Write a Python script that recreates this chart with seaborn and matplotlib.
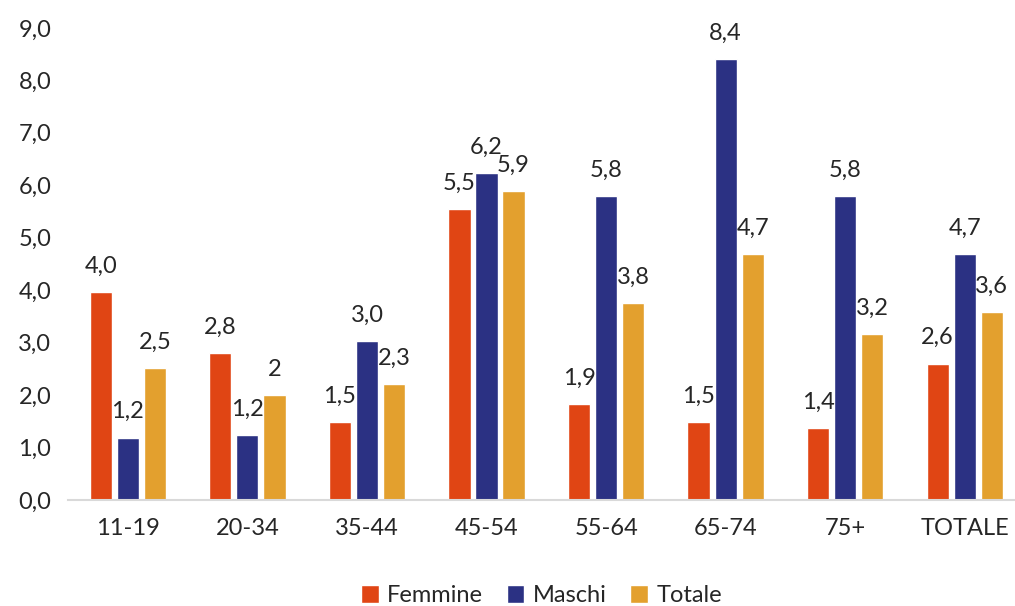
import pandas as pd
import seaborn as sns
import matplotlib.pyplot as plt

categories = ["11-19", "20-34", "35-44", "45-54", "55-64", "65-74", "75+", "TOTALE"]
series = ["Femmine", "Maschi", "Totale"]

# bar heights
femmine = [3.97, 2.80, 1.49, 5.55, 1.83, 1.49, 1.37, 2.60]
maschi = [1.19, 1.24, 3.03, 6.23, 5.80, 8.40, 5.80, 4.69]
totale = [2.52, 2.00, 2.21, 5.89, 3.76, 4.69, 3.16, 3.59]

# data labels as printed in the chart
femmine_lbl = ["4,0", "2,8", "1,5", "5,5", "1,9", "1,5", "1,4", "2,6"]
maschi_lbl = ["1,2", "1,2", "3,0", "6,2", "5,8", "8,4", "5,8", "4,7"]
totale_lbl = ["2,5", "2", "2,3", "5,9", "3,8", "4,7", "3,2", "3,6"]

colors = ["#E04514", "#2B3183", "#E3A02E"]

df = pd.DataFrame({
    "categoria": categories * 3,
    "serie": [s for s in series for _ in categories],
    "valore": femmine + maschi + totale,
})

sns.set_theme(style="white")
plt.rcParams["font.family"] = ["Lato", "DejaVu Sans"]

fig = plt.figure(figsize=(10.15, 6.06), dpi=100)
ax = fig.add_axes([0.067, 0.175, 0.933, 0.779])

sns.barplot(data=df, x="categoria", y="valore", hue="serie", order=categories,
            hue_order=series, palette=colors, width=0.68, gap=0.18,
            saturation=1, ax=ax, legend=True)

for cont, lbl in zip(ax.containers, [femmine_lbl, maschi_lbl, totale_lbl]):
    ax.bar_label(cont, labels=lbl, padding=11, fontsize=17, color="#262626")

ax.set_ylim(0, 9)
ax.set_xlim(-0.5, 7.42)
ax.set_yticks(range(10))
ax.set_yticklabels([f"{v},0" for v in range(10)])
ax.tick_params(axis="both", length=0, labelsize=17, labelcolor="#262626")
ax.tick_params(axis="x", pad=13)
ax.tick_params(axis="y", pad=12)
ax.set_xlabel("")
ax.set_ylabel("")
for s in ["top", "right", "left"]:
    ax.spines[s].set_visible(False)
ax.spines["bottom"].set_color("#D9D9D9")
ax.spines["bottom"].set_linewidth(1.5)

ax.legend(loc="lower center", bbox_to_anchor=(0.5, -0.27), ncol=3, frameon=False,
          fontsize=17, handlelength=0.75, handleheight=0.75, handletextpad=0.35,
          columnspacing=1.0, labelcolor="#262626")

fig.savefig("out.png", dpi=100)
